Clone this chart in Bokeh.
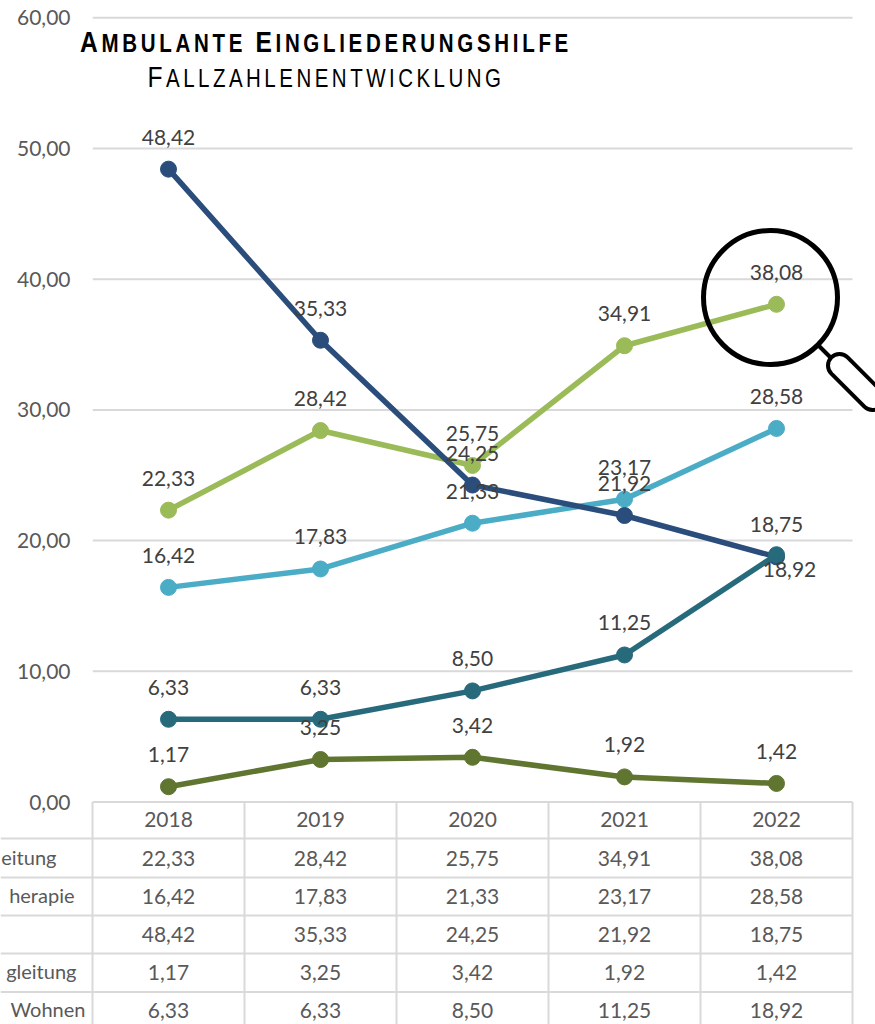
from bokeh.plotting import figure
from bokeh.layouts import column
from bokeh.models import Range1d, FixedTicker, Div, CustomJSTickFormatter
from bokeh.core.properties import value
from bokeh.embed import file_html
from bokeh.resources import INLINE

years = ["2018", "2019", "2020", "2021", "2022"]
begleitung = [22.33, 28.42, 25.75, 34.91, 38.08]
therapie = [16.42, 17.83, 21.33, 23.17, 28.58]
navy_series = [48.42, 35.33, 24.25, 21.92, 18.75]
gbegleitung = [1.17, 3.25, 3.42, 1.92, 1.42]
wohnen = [6.33, 6.33, 8.50, 11.25, 18.92]
row_labels = ["eitung", "herapie", "gleitung", "Wohnen"]
y_ticks = [0, 10, 20, 30, 40, 50, 60]

series = [
    (begleitung, "#9BBB59"),
    (therapie, "#4BACC6"),
    (navy_series, "#2A4D7C"),
    (gbegleitung, "#5F7530"),
    (wohnen, "#276A7C"),
]
FONT = "Lato"
FS = "21px"
TXT = "#404040"
GRID = "#D9D9D9"
xs = list(range(5))

def fx(px):
    return (px - 168) / 152

def fy(px):
    return (801.5 - px) / 13.07

def fmt(v):
    return f"{v:.2f}".replace(".", ",")

p = figure(width=875, height=840, output_backend="svg", toolbar_location=None,
           x_range=Range1d(fx(92), fx(875)), y_range=Range1d(fy(840), fy(0)),
           min_border_left=92, min_border_right=0, min_border_top=0, min_border_bottom=0,
           x_axis_location=None, margin=0, frame_align=False)
p.outline_line_color = None
p.xgrid.visible = False
p.ygrid.visible = False
ax = p.yaxis[0]
ax.ticker = FixedTicker(ticks=y_ticks)
ax.formatter = CustomJSTickFormatter(code="return tick.toFixed(2).replace('.', ',')")
ax.axis_line_color = None
ax.major_tick_line_color = None
ax.minor_tick_line_color = None
ax.major_tick_out = 0
ax.major_label_standoff = 22
ax.major_label_text_font = FONT
ax.major_label_text_font_size = FS
ax.major_label_text_color = "#595959"

p.segment(x0=[fx(92)] * 7, x1=[fx(852)] * 7, y0=y_ticks, y1=y_ticks, line_color=GRID, line_width=2)

for vals, col in series:
    p.line(xs, vals, line_color=col, line_width=5.5)
    p.scatter(xs, vals, size=16, color=col)

for vals, col in series:
    below = [vals is wohnen and i == 4 for i in xs]
    p.text([x for x, b in zip(xs, below) if not b], [v for v, b in zip(vals, below) if not b],
           text=[fmt(v) for v, b in zip(vals, below) if not b],
           text_align="center", text_baseline="middle", y_offset=-32,
           text_font=value(FONT), text_font_size=FS, text_color=TXT)
    if any(below):
        p.text([x for x, b in zip(xs, below) if b], [v for v, b in zip(vals, below) if b],
               text=[fmt(v) for v, b in zip(vals, below) if b],
               text_align="center", text_baseline="middle", x_offset=13, y_offset=15,
               text_font=value(FONT), text_font_size=FS, text_color=TXT)

# magnifier
p.scatter([fx(770)], [fy(297)], marker="circle", size=134, fill_color=None, line_color="#000000", line_width=5)
p.line([fx(818), fx(842)], [fy(345), fy(369)], line_color="#000000", line_width=4)
p.line([fx(839), fx(872)], [fy(365), fy(398)], line_color="#000000", line_width=27, line_cap="round")
p.line([fx(839), fx(872)], [fy(365), fy(398)], line_color="#FFFFFF", line_width=19, line_cap="round")

t = figure(width=875, height=226, output_backend="svg", toolbar_location=None,
           x_range=Range1d(fx(0), fx(875)), y_range=Range1d(1024, 798),
           min_border_left=0, min_border_right=0, min_border_top=0, min_border_bottom=0,
           x_axis_location=None, y_axis_location=None, margin=(-42, 0, 0, 0), frame_align=False,
           background_fill_alpha=0, border_fill_alpha=0)
t.outline_line_color = None
t.xgrid.visible = False
t.ygrid.visible = False
row_lines = [801.5, 838, 877, 915, 953, 991.5]
col_lines = [92, 244, 396, 548, 700, 852]
t.segment(x0=[fx(0)] * 5, x1=[fx(852)] * 5, y0=row_lines[1:], y1=row_lines[1:], line_color=GRID, line_width=2)
t.segment(x0=[fx(c) for c in col_lines], x1=[fx(c) for c in col_lines], y0=[801.5] * 6, y1=[1024] * 6,
          line_color=GRID, line_width=2)
row_c = [819, 857.5, 895.5, 933.5, 971.5, 1009.5]
tk = dict(text_baseline="middle", text_font=value(FONT), text_font_size=FS, text_color="#595959")
t.text(xs, [row_c[0]] * 5, text=years, text_align="center", **tk)
for i, (vals, _) in enumerate(series):
    t.text(xs, [row_c[i + 1]] * 5, text=[fmt(v) for v in vals], text_align="center", **tk)
row_end = [56, 74, 76, 85]
row_y = [row_c[1] - 1, row_c[2] - 1, row_c[4] - 1, row_c[5] - 1]
tk2 = dict(tk, text_font_size="20px")
t.text([fx(e) for e in row_end], row_y, text=row_labels, text_align="right", **tk2)

def caps(words, big):
    return " ".join(f'<span style="font-size:{big}px">{w[0]}</span>{w[1:].upper()}' for w in words.split())

title = Div(
    text='<div style="font-weight:bold;font-size:25px;letter-spacing:4.5px;transform:scaleX(0.82);white-space:nowrap;">'
         + caps("Ambulante Eingliederungshilfe", 30) + '</div>'
         '<div style="font-size:25px;letter-spacing:4.25px;transform:scaleX(0.82);white-space:nowrap;margin-top:-2px;">'
         + caps("Fallzahlenentwicklung", 30) + '</div>',
    width=640, height=80, margin=(-1000, 0, 0, 6),
    styles={"font-family": "'Liberation Sans'", "text-align": "center", "color": "#000000", "line-height": "36px"})

layout = column(p, t, title, spacing=0)
open("out.html", "w").write(file_html(layout, INLINE))
